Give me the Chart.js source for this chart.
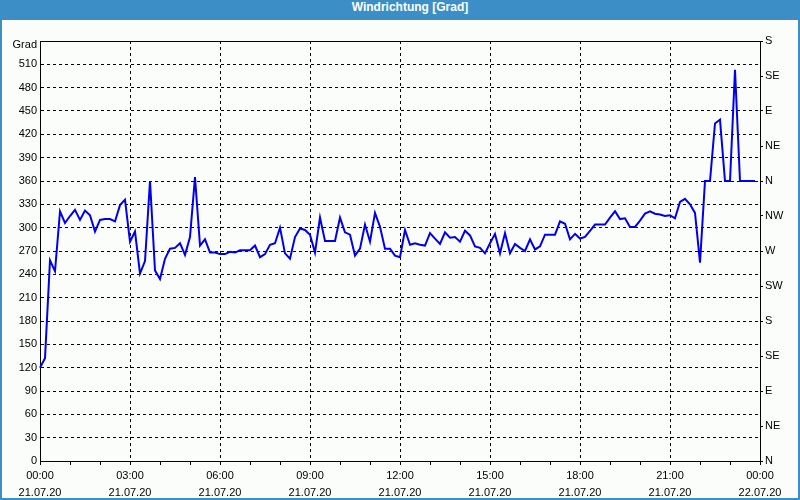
<!DOCTYPE html>
<html>
<head>
<meta charset="utf-8">
<script src="https://cdn.jsdelivr.net/npm/chart.js@4/dist/chart.umd.min.js"></script>
<style>
  html, body { margin: 0; padding: 0; background: #ffffff; }
  #frame { width: 796px; height: 498px; border: 2px solid #3c8fc6; border-top: none; background: #fbfdfb; }
  #titlebar { height: 20px; line-height: 20px; background: #3c8fc6; color: #ffffff; font: bold 12px 'Liberation Sans', Arial, sans-serif; text-align: center; padding-left: 20px; box-sizing: border-box; margin: 0 -2px; width: 800px; }
  canvas { display: block; }
</style>
</head>
<body>
<div id="frame">
  <div id="titlebar">Windrichtung [Grad]</div>
  <canvas id="c" width="796" height="478"></canvas>
</div>
<script>
// ---- data ----
const chartTitle = 'Windrichtung [Grad]';
const unitLabel = 'Grad';
const days = ['21.07.20', '22.07.20'];
const stepMinutes = 10;
// wind direction (degrees), one value every 10 minutes from 00:00
const windDir = [
  120, 132, 258, 244, 321, 306, 315, 323, 310, 322, 316, 295,
  310, 311, 311, 308, 329, 336, 282, 295, 241, 257, 360, 245,
  234, 260, 273, 274, 280, 265, 288, 365, 277, 285, 268, 268,
  266, 266, 269, 268, 271, 271, 271, 277, 262, 266, 278, 280,
  300, 267, 260, 288, 299, 297, 291, 268, 313, 283, 283, 283,
  313, 294, 291, 264, 273, 304, 282, 319, 301, 273, 273, 264,
  262, 297, 278, 280, 278, 277, 293, 286, 279, 294, 287, 288,
  282, 296, 290, 276, 274, 267, 280, 292, 267, 293, 267, 279,
  274, 270, 285, 272, 276, 291, 291, 291, 308, 305, 285, 292,
  286, 288, 296, 304, 304, 304, 313, 321, 311, 312, 301, 301,
  309, 318, 321, 318, 317, 315, 316, 312, 333, 337, 330, 319,
  255, 360, 360, 434, 439, 360, 360, 503, 360, 360, 360, 360
];
const compassLabels = ['N', 'NE', 'E', 'SE', 'S', 'SW', 'W', 'NW', 'N', 'NE', 'E', 'SE', 'S'];
const yMax = 540, yStep = 30, compassStep = 45;

// category labels: 00:00 ... 24:00 (next day 00:00)
const timeLabels = [];
const dateLabels = [];
for (let m = 0; m <= 24 * 60; m += stepMinutes) {
  const h = Math.floor(m / 60) % 24, mm = m % 60;
  timeLabels.push(String(h).padStart(2, '0') + ':' + String(mm).padStart(2, '0'));
  dateLabels.push(m < 24 * 60 ? days[0] : days[1]);
}
const seriesData = windDir.concat([null]);

Chart.defaults.font.family = "'Liberation Sans', Arial, sans-serif";
Chart.defaults.font.size = 11;
Chart.defaults.color = '#000000';

const frameBorder = {
  id: 'frameBorder',
  afterDraw(chart) {
    const {ctx, chartArea: a} = chart;
    ctx.save();
    ctx.strokeStyle = '#000000';
    ctx.lineWidth = 1;
    ctx.setLineDash([]);
    ctx.beginPath();
    ctx.moveTo(Math.round(a.left), Math.round(a.top) + 0.5);
    ctx.lineTo(Math.round(a.right) + 1, Math.round(a.top) + 0.5);
    ctx.stroke();
    ctx.fillStyle = '#000000';
    ctx.font = "11px 'Liberation Sans', Arial, sans-serif";
    ctx.textAlign = 'right';
    ctx.textBaseline = 'middle';
    ctx.fillText(unitLabel, a.left - 3, a.top + 4);
    ctx.restore();
  }
};

const majorEvery = 18, minorEvery = 6;

new Chart(document.getElementById('c'), {
  type: 'line',
  data: {
    labels: timeLabels,
    datasets: [{
      label: chartTitle,
      data: seriesData,
      borderColor: '#0000ee',
      borderWidth: 2,
      pointRadius: 0,
      tension: 0,
      fill: false
    }]
  },
  options: {
    responsive: false,
    animation: false,
    layout: { padding: { top: 21, left: 0, right: 0, bottom: 0 } },
    plugins: { legend: { display: false }, title: { display: false }, tooltip: { enabled: false } },
    scales: {
      x: {
        type: 'category',
        offset: false,
        afterFit: s => { s.height = 37; },
        grid: {
          offset: false,
          color: c => (c.index % majorEvery === 0 ? '#000000' : 'rgba(0,0,0,0)'),
          tickColor: c => (c.index % minorEvery === 0 ? '#000000' : 'rgba(0,0,0,0)'),
          tickLength: 4,
          lineWidth: 1
        },
        border: { display: true, color: '#000000', width: 1, dash: [3, 3] },
        ticks: {
          autoSkip: false,
          maxRotation: 0,
          minRotation: 0,
          padding: 2,
          font: { size: 11, lineHeight: 1.55 },
          callback: (v, i) => (i % majorEvery === 0 ? [timeLabels[i], dateLabels[i]] : '')
        }
      },
      y: {
        position: 'left',
        min: 0,
        max: yMax,
        afterFit: s => { s.width = 38; },
        grid: { color: '#000000', drawTicks: false, lineWidth: 1 },
        border: { display: true, color: '#000000', width: 1, dash: [3, 3] },
        ticks: {
          stepSize: yStep,
          maxTicksLimit: 40,
          padding: 3,
          callback: v => (v >= yMax ? '' : String(v))
        }
      },
      y2: {
        position: 'right',
        min: 0,
        max: yMax,
        afterFit: s => { s.width = 38; },
        grid: { drawOnChartArea: false, drawTicks: true, tickLength: 3, tickColor: '#000000' },
        border: { display: true, color: '#000000', width: 1 },
        ticks: {
          stepSize: compassStep,
          maxTicksLimit: 40,
          padding: 2,
          callback: v => compassLabels[Math.round(v / compassStep)]
        }
      }
    }
  },
  plugins: [frameBorder]
});
</script>
</body>
</html>
